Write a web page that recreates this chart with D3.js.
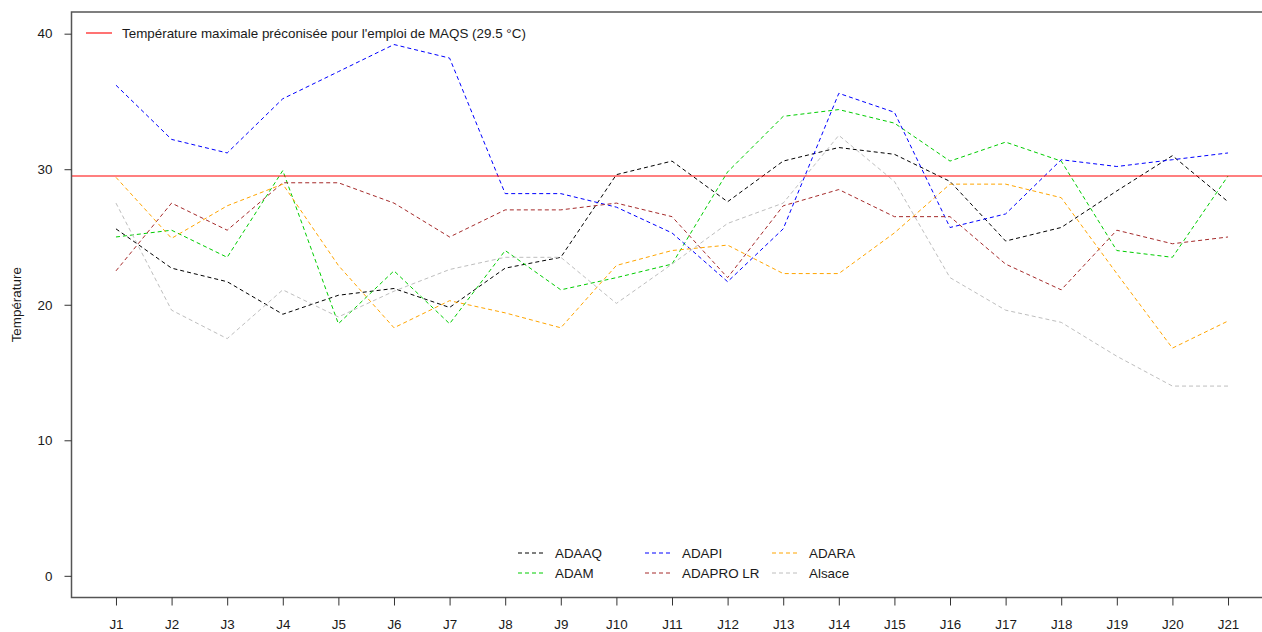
<!DOCTYPE html>
<html>
<head>
<meta charset="utf-8">
<script src="https://cdn.jsdelivr.net/npm/d3@7"></script>
<style>
  body { margin: 0; background: #fff; }
  svg { display: block; font-family: "Liberation Sans", Arial, sans-serif; }
</style>
</head>
<body>
<script>
const days = ["J1","J2","J3","J4","J5","J6","J7","J8","J9","J10","J11","J12","J13","J14","J15","J16","J17","J18","J19","J20","J21"];

const adaaq   = [25.6, 22.7, 21.7, 19.3, 20.7, 21.2, 19.8, 22.7, 23.5, 29.6, 30.6, 27.6, 30.6, 31.6, 31.1, 29.1, 24.7, 25.7, 28.4, 31.0, 27.6];
const adam    = [25.0, 25.5, 23.5, 29.9, 18.6, 22.5, 18.6, 24.0, 21.1, 22.0, 23.0, 29.8, 33.9, 34.4, 33.4, 30.6, 32.0, 30.6, 24.0, 23.5, 29.5];
const adapi   = [36.2, 32.2, 31.2, 35.2, 37.2, 39.2, 38.2, 28.2, 28.2, 27.2, 25.3, 21.7, 25.6, 35.6, 34.2, 25.7, 26.7, 30.7, 30.2, 30.7, 31.2];
const adapro  = [22.5, 27.5, 25.5, 29.0, 29.0, 27.5, 25.0, 27.0, 27.0, 27.5, 26.5, 22.0, 27.3, 28.5, 26.5, 26.5, 23.0, 21.1, 25.5, 24.5, 25.0];
const adara   = [29.4, 24.9, 27.3, 28.9, 22.9, 18.3, 20.3, 19.4, 18.3, 22.9, 24.0, 24.4, 22.3, 22.3, 25.3, 28.9, 28.9, 27.9, 22.3, 16.8, 18.8];
const alsace  = [27.5, 19.6, 17.5, 21.1, 19.1, 21.0, 22.6, 23.5, 23.5, 20.1, 23.0, 26.0, 27.5, 32.5, 29.1, 22.0, 19.6, 18.7, 16.2, 14.0, 14.0];

const seriesNames  = ["ADAAQ", "ADAM", "ADAPI", "ADAPRO LR", "ADARA", "Alsace"];
const seriesValues = [adaaq, adam, adapi, adapro, adara, alsace];
const seriesColors = ["#000000", "#00CD00", "#0000FF", "#A52A2A", "#FFA500", "#BEBEBE"];

const yTicks = [0, 10, 20, 30, 40];
const threshold = 29.5;
const thresholdLabel = "Température maximale préconisée pour l'emploi de MAQS (29.5 °C)";
const yTitle = "Température";

const W = 1262, H = 632;
const m = { left: 71.5, right: 1272.5, top: 12, bottom: 597.5 };
const fs = "13.4px";

const svg = d3.select("body").append("svg")
  .attr("width", W)
  .attr("height", H);

const x = d3.scaleLinear().domain([0.2, 21.8]).range([m.left, m.right]);
const y = d3.scaleLinear().domain([-1.6, 41.6]).range([m.bottom, m.top]);

// series lines
const line = d3.line()
  .x((d, i) => x(i + 1))
  .y(d => y(d));

svg.selectAll("path.serie")
  .data(seriesValues)
  .enter()
  .append("path")
  .attr("class", "serie")
  .attr("d", d => line(d))
  .attr("fill", "none")
  .attr("stroke", (d, i) => seriesColors[i])
  .attr("stroke-width", 1)
  .attr("stroke-dasharray", "4,3");

// threshold line
svg.append("line")
  .attr("x1", m.left).attr("x2", m.right)
  .attr("y1", y(threshold)).attr("y2", y(threshold))
  .attr("stroke", "#FF0000")
  .attr("stroke-width", 1.1);

// frame
svg.append("rect")
  .attr("x", m.left).attr("y", m.top)
  .attr("width", m.right - m.left).attr("height", m.bottom - m.top)
  .attr("fill", "none")
  .attr("stroke", "#555")
  .attr("stroke-width", 1.5);

// axes
const xAxis = svg.append("g")
  .attr("transform", `translate(0,${m.bottom})`)
  .call(d3.axisBottom(x)
    .tickValues(d3.range(1, days.length + 1))
    .tickFormat(d => days[d - 1])
    .tickSize(8)
    .tickPadding(14));

const yAxis = svg.append("g")
  .attr("transform", `translate(${m.left},0)`)
  .call(d3.axisLeft(y)
    .tickValues(yTicks)
    .tickSize(7)
    .tickPadding(12));

[xAxis, yAxis].forEach(g => {
  g.select(".domain").remove();
  g.selectAll(".tick line").attr("stroke", "#333");
  g.selectAll(".tick text")
    .attr("fill", "#1a1a1a")
    .style("font-size", fs)
    .style("font-family", "Liberation Sans, Arial, sans-serif");
});

// y title
svg.append("text")
  .attr("transform", `translate(21,${(m.top + m.bottom) / 2}) rotate(-90)`)
  .attr("text-anchor", "middle")
  .attr("fill", "#1a1a1a")
  .style("font-size", fs)
  .text(yTitle);

// top legend
svg.append("line")
  .attr("x1", 86).attr("x2", 112)
  .attr("y1", 33).attr("y2", 33)
  .attr("stroke", "#FF0000")
  .attr("stroke-width", 1.1);
svg.append("text")
  .attr("x", 122).attr("y", 33)
  .attr("dy", "0.35em")
  .attr("fill", "#1a1a1a")
  .style("font-size", fs)
  .text(thresholdLabel);

// bottom legend, 3 columns x 2 rows
const legX = [518, 645, 772], legY = [553, 573];
const leg = svg.selectAll("g.leg")
  .data(seriesNames)
  .enter()
  .append("g")
  .attr("class", "leg")
  .attr("transform", (d, i) => `translate(${legX[Math.floor(i / 2)]},${legY[i % 2]})`);

leg.append("line")
  .attr("x1", 0).attr("x2", 27)
  .attr("stroke", (d, i) => seriesColors[i])
  .attr("stroke-width", 1)
  .attr("stroke-dasharray", "4,3");

leg.append("text")
  .attr("x", 37)
  .attr("dy", "0.35em")
  .attr("fill", "#1a1a1a")
  .style("font-size", fs)
  .text(d => d);
</script>
</body>
</html>
